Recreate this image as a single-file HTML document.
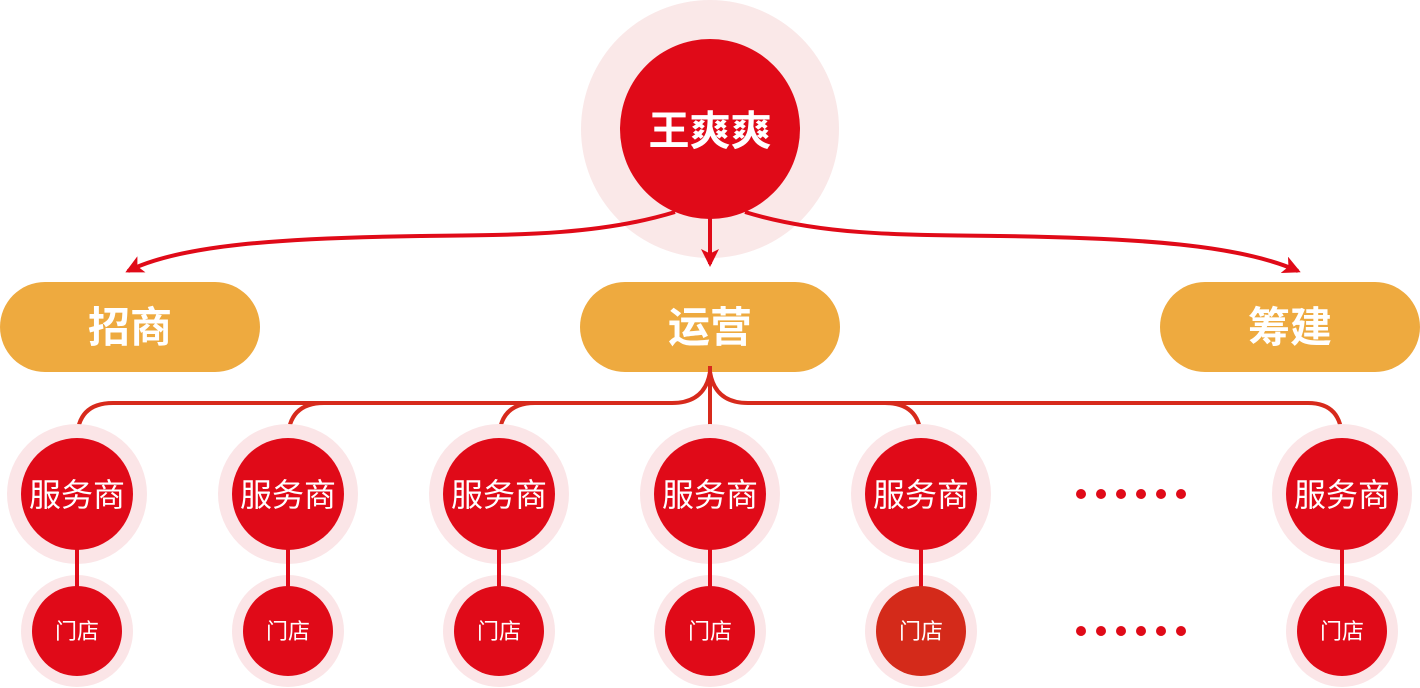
<!DOCTYPE html>
<html><head><meta charset="utf-8"><style>
body{margin:0;width:1420px;height:688px;background:#fff;overflow:hidden}
svg{display:block}
text{font-family:"Liberation Sans","Noto Sans CJK SC",sans-serif;fill:#fff;text-anchor:middle}
</style></head><body>
<svg width="1420" height="688" viewBox="0 0 1420 688">
<defs>
<marker id="ah" viewBox="0 0 12 12" refX="10" refY="6" markerWidth="18" markerHeight="18" markerUnits="userSpaceOnUse" orient="auto">
<path d="M0,0 L12,6 L0,12 L3,6 Z" fill="#e00a18"/></marker>
</defs>
<circle cx="710" cy="129" r="129" fill="#fae8e8"/>
<circle cx="710" cy="129" r="90" fill="#e00a18"/>
<text x="710" y="145" font-size="41" font-weight="bold">王爽爽</text>
<g fill="none" stroke="#e00a18" stroke-width="4">
<path d="M675,212 C600,235 520,235 420,236 C280,238 180,245 128,271" marker-end="url(#ah)"/>
<path d="M710,218 L710,264" marker-end="url(#ah)"/>
<path d="M745,212 C820,235 900,235 1000,236 C1140,238 1240,245 1298,271" marker-end="url(#ah)"/>
</g>
<rect x="0" y="282" width="260" height="90" rx="45" fill="#eeaa3f"/>
<rect x="580" y="282" width="260" height="90" rx="45" fill="#eeaa3f"/>
<rect x="1160" y="282" width="260" height="90" rx="45" fill="#eeaa3f"/>
<text x="130" y="342" font-size="42" font-weight="bold">招商</text>
<text x="710" y="342" font-size="42" font-weight="bold">运营</text>
<text x="1290" y="342" font-size="42" font-weight="bold">筹建</text>
<g fill="none" stroke="#d72a1c" stroke-width="4">
<path d="M113,403 L672,403 M748,403 L1308,403"/>
<path d="M710,366 L710,440"/>
<path d="M710,372 Q705,403 672,403 M710,372 Q715,403 748,403"/>
<path d="M113,403 Q77,403 77,440"/>
<path d="M324,403 Q288,403 288,440"/>
<path d="M535,403 Q499,403 499,440"/>
<path d="M885,403 Q921,403 921,440"/>
<path d="M1308,403 Q1342,403 1342,440"/>
</g>
<g>
<g transform="translate(77,0)">
<circle cy="494" r="70" fill="#fbe5e7"/><circle cy="631" r="56" fill="#fbe5e7"/>
<path d="M0,540 L0,590" stroke="#e00a18" stroke-width="4"/>
<circle cy="494" r="56" fill="#e00a18"/><circle cy="631" r="45" fill="#e00a18"/>
<text y="506" font-size="32" x="0">服务商</text><text y="639" font-size="22" x="0">门店</text></g>
<g transform="translate(288,0)">
<circle cy="494" r="70" fill="#fbe5e7"/><circle cy="631" r="56" fill="#fbe5e7"/>
<path d="M0,540 L0,590" stroke="#e00a18" stroke-width="4"/>
<circle cy="494" r="56" fill="#e00a18"/><circle cy="631" r="45" fill="#e00a18"/>
<text y="506" font-size="32" x="0">服务商</text><text y="639" font-size="22" x="0">门店</text></g>
<g transform="translate(499,0)">
<circle cy="494" r="70" fill="#fbe5e7"/><circle cy="631" r="56" fill="#fbe5e7"/>
<path d="M0,540 L0,590" stroke="#e00a18" stroke-width="4"/>
<circle cy="494" r="56" fill="#e00a18"/><circle cy="631" r="45" fill="#e00a18"/>
<text y="506" font-size="32" x="0">服务商</text><text y="639" font-size="22" x="0">门店</text></g>
<g transform="translate(710,0)">
<circle cy="494" r="70" fill="#fbe5e7"/><circle cy="631" r="56" fill="#fbe5e7"/>
<path d="M0,540 L0,590" stroke="#e00a18" stroke-width="4"/>
<circle cy="494" r="56" fill="#e00a18"/><circle cy="631" r="45" fill="#e00a18"/>
<text y="506" font-size="32" x="0">服务商</text><text y="639" font-size="22" x="0">门店</text></g>
<g transform="translate(921,0)">
<circle cy="494" r="70" fill="#fbe5e7"/><circle cy="631" r="56" fill="#fbe5e7"/>
<path d="M0,540 L0,590" stroke="#e00a18" stroke-width="4"/>
<circle cy="494" r="56" fill="#e00a18"/><circle cy="631" r="45" fill="#d42a1a"/>
<text y="506" font-size="32" x="0">服务商</text><text y="639" font-size="22" x="0">门店</text></g>
<g transform="translate(1342,0)">
<circle cy="494" r="70" fill="#fbe5e7"/><circle cy="631" r="56" fill="#fbe5e7"/>
<path d="M0,540 L0,590" stroke="#e00a18" stroke-width="4"/>
<circle cy="494" r="56" fill="#e00a18"/><circle cy="631" r="45" fill="#e00a18"/>
<text y="506" font-size="32" x="0">服务商</text><text y="639" font-size="22" x="0">门店</text></g>
</g>
<g fill="#e00a18">
<circle cx="1081" cy="494" r="5"/><circle cx="1101" cy="494" r="5"/><circle cx="1121" cy="494" r="5"/><circle cx="1141" cy="494" r="5"/><circle cx="1161" cy="494" r="5"/><circle cx="1181" cy="494" r="5"/>
<circle cx="1081" cy="631" r="5"/><circle cx="1101" cy="631" r="5"/><circle cx="1121" cy="631" r="5"/><circle cx="1141" cy="631" r="5"/><circle cx="1161" cy="631" r="5"/><circle cx="1181" cy="631" r="5"/>
</g>
</svg>
</body></html>
